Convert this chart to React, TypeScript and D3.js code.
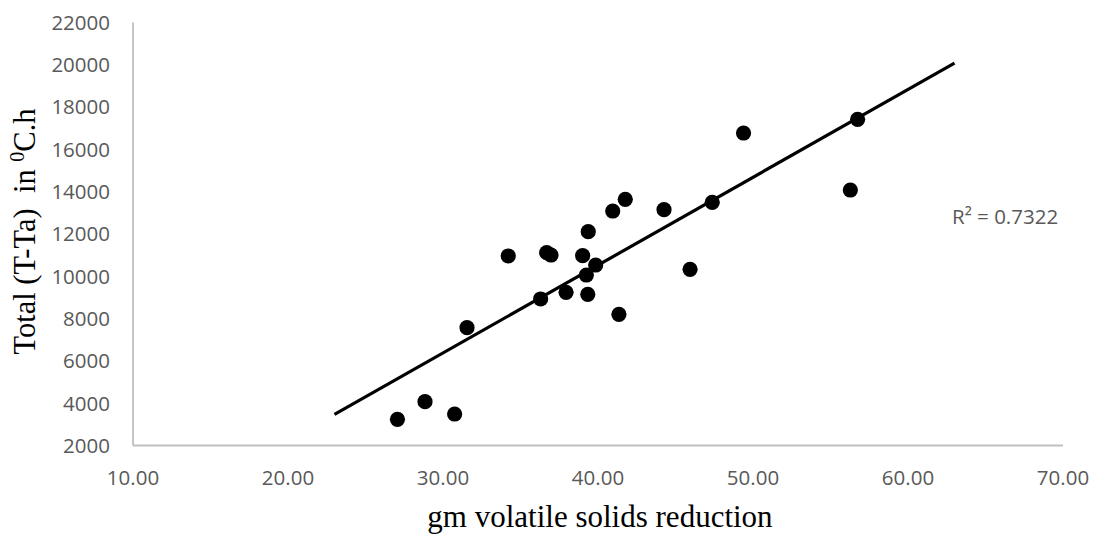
import React from "react";
import * as d3 from "d3";

const xValues = [49.39, 41.76, 40.95, 44.26, 47.37, 39.37, 34.21, 36.69, 36.97, 39.01, 39.85, 39.25, 45.94, 36.3, 37.94, 39.34, 41.35, 31.55, 56.75, 56.28, 27.06, 28.84, 30.75];
const yValues = [16775, 13641, 13087, 13149, 13499, 12109, 10960, 11116, 11007, 10974, 10534, 10061, 10331, 8927, 9243, 9149, 8203, 7570, 17423, 14080, 3239, 4071, 3489];
const xTicks = [10, 20, 30, 40, 50, 60, 70];
const yTicks = [2000, 4000, 6000, 8000, 10000, 12000, 14000, 16000, 18000, 20000, 22000];
const trendRange = [23, 63];
const rSquaredLabel = "R² = 0.7322";

export default function App() {
  const W = 1102, H = 534;
  const x = d3.scaleLinear().domain([10, 70]).range([133, 1063]);
  const y = d3.scaleLinear().domain([2000, 22000]).range([445.5, 22.5]);

  const mx = d3.mean(xValues)!;
  const my = d3.mean(yValues)!;
  let sxy = 0, sxx = 0;
  xValues.forEach((xv, i) => {
    sxy += (xv - mx) * (yValues[i] - my);
    sxx += (xv - mx) * (xv - mx);
  });
  const slope = sxy / sxx;
  const intercept = my - slope * mx;
  const line = d3.line<number>().x((d) => x(d)).y((d) => y(intercept + slope * d));

  const tickFont = "'Open Sans', 'Liberation Sans', sans-serif";
  const serif = "'Liberation Serif', 'Times New Roman', serif";

  return (
    <svg width={W} height={H} style={{ position: "absolute", left: 0, top: 0, background: "#fff" }}>
      <rect width={W} height={H} fill="#fff" />
      <line x1={x(10)} x2={x(10)} y1={y(22000)} y2={y(2000)} stroke="#bfbfbf" strokeWidth={1.8} />
      <line x1={x(10)} x2={x(70)} y1={y(2000)} y2={y(2000)} stroke="#bfbfbf" strokeWidth={1.8} />
      {yTicks.map((t) => (
        <text key={"y" + t} x={x(10) - 23} y={y(t)} dy="0.36em" textAnchor="end" fontFamily={tickFont} fontSize={20.5} fill="#595959">
          {t}
        </text>
      ))}
      {xTicks.map((t) => (
        <text key={"x" + t} x={x(t)} y={y(2000) + 39} textAnchor="middle" fontFamily={tickFont} fontSize={20.5} fill="#595959">
          {d3.format(".2f")(t)}
        </text>
      ))}
      <path d={line(trendRange) || ""} stroke="#000" strokeWidth={3.2} fill="none" />
      {xValues.map((xv, i) => (
        <circle key={i} cx={x(xv)} cy={y(yValues[i])} r={7.6} fill="#000" />
      ))}
      <text x={952} y={224} fontFamily={tickFont} fontSize={20.5} fill="#595959">
        {rSquaredLabel}
      </text>
      <text x={600} y={527} textAnchor="middle" fontFamily={serif} fontSize={31} fill="#000">
        gm volatile solids reduction
      </text>
      <text
        transform={`translate(35, ${231.5}) rotate(-90)`}
        textAnchor="middle"
        fontFamily={serif}
        fontSize={30.5}
        fill="#000"
        style={{ whiteSpace: "pre" }}
      >
        <tspan>{"Total (T-Ta)  in "}</tspan>
        <tspan fontSize={20} dy={-11}>0</tspan>
        <tspan dy={11}>C.h</tspan>
      </text>
    </svg>
  );
}
